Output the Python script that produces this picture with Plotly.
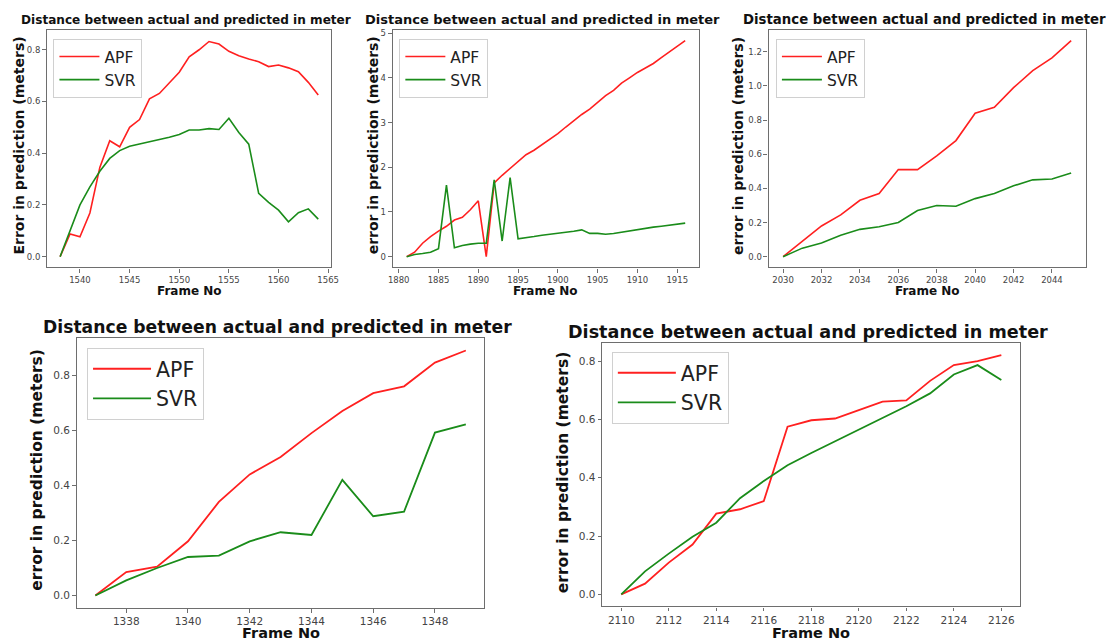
import plotly.graph_objects as go

# ---------------- data ----------------
p1_frames = list(range(1538, 1565))
p1_apf = [0.0, 0.088, 0.077, 0.169, 0.345, 0.448, 0.425, 0.5, 0.53, 0.61, 0.631, 0.67, 0.713,
          0.773, 0.8, 0.832, 0.822, 0.794, 0.777, 0.764, 0.754, 0.735, 0.741, 0.73, 0.715, 0.674, 0.625]
p1_svr = [0.0, 0.1, 0.2, 0.27, 0.33, 0.38, 0.41, 0.427, 0.435, 0.445, 0.452, 0.462, 0.472,
          0.49, 0.49, 0.495, 0.492, 0.535, 0.48, 0.435, 0.245, 0.21, 0.18, 0.135, 0.17, 0.185, 0.145]

p2_frames = list(range(1881, 1917))
p2_apf = [0.0, 0.1, 0.3, 0.45, 0.57, 0.68, 0.82, 0.88, 1.05, 1.25, 0.0, 1.65, 1.82, 1.98, 2.13,
          2.28, 2.38, 2.5, 2.62, 2.75, 2.9, 3.05, 3.18, 3.3, 3.45, 3.6, 3.72, 3.88, 4.0, 4.12,
          4.22, 4.32, 4.45, 4.57, 4.7, 4.83]
p2_svr = [0.0, 0.05, 0.07, 0.1, 0.18, 1.6, 0.2, 0.25, 0.28, 0.3, 0.3, 1.72, 0.35, 1.77, 0.4,
          0.42, 0.45, 0.48, 0.5, 0.52, 0.54, 0.57, 0.6, 0.52, 0.52, 0.5, 0.52, 0.55, 0.57, 0.6,
          0.63, 0.66, 0.68, 0.7, 0.73, 0.75]

p3_frames = list(range(2030, 2046))
p3_apf = [0.0, 0.09, 0.18, 0.245, 0.33, 0.37, 0.51, 0.51, 0.59, 0.68, 0.84, 0.875, 0.99, 1.09,
          1.165, 1.265]
p3_svr = [0.0, 0.05, 0.08, 0.125, 0.16, 0.175, 0.2, 0.27, 0.3, 0.295, 0.34, 0.37, 0.415, 0.45,
          0.455, 0.49]

p4_frames = list(range(1337, 1350))
p4_apf = [0.0, 0.085, 0.105, 0.197, 0.34, 0.44, 0.503, 0.59, 0.67, 0.735, 0.76, 0.846, 0.89]
p4_svr = [0.0, 0.055, 0.1, 0.14, 0.145, 0.197, 0.23, 0.22, 0.42, 0.288, 0.305, 0.592, 0.622]

p5_frames = list(range(2110, 2127))
p5_apf = [0.0, 0.037, 0.109, 0.171, 0.277, 0.292, 0.32, 0.575, 0.597, 0.603, 0.632, 0.661,
          0.665, 0.732, 0.786, 0.8, 0.82]
p5_svr = [0.0, 0.079, 0.14, 0.198, 0.246, 0.33, 0.389, 0.443, 0.485, 0.525, 0.565, 0.605,
          0.645, 0.689, 0.754, 0.786, 0.735]

title_text = "Distance between actual and predicted in meter"
x_title = "Frame No"
y_titles = ["Error in prediction (meters)", "error in prediction (meters)",
            "error in prediction (meters)", "error in prediction (meters)",
            "error in prediction (meters)"]

# ---------------- layout geometry ----------------
W, H = 1116, 642
FONT = "DejaVu Sans"
RED = "#ff2020"
GREEN = "#1a8c1a"
SPINE = "#6e6e6e"

panels = [
    dict(frames=p1_frames, apf=p1_apf, svr=p1_svr, px=(42.7, 330.0), py=(28.0, 266.3),
         xr=(1536.7, 1565.3), yr=(-0.0418, 0.8768), xt=list(range(1540, 1566, 5)),
         yt=[0.0, 0.2, 0.4, 0.6, 0.8], yfmt=".1f", big=False, title_size=12.1,
         title_y=18, xtitle_y=290, ytitle_x=14, legend=(49, 37)),
    dict(frames=p2_frames, apf=p2_apf, svr=p2_svr, px=(392.3, 702.3), py=(28.0, 266.3),
         xr=(1879.25, 1917.75), yr=(-0.2415, 5.0715), xt=list(range(1880, 1916, 5)),
         yt=[0, 1, 2, 3, 4, 5], yfmt="d", big=False, title_size=13,
         title_y=18, xtitle_y=290, ytitle_x=372, legend=(399, 37)),
    dict(frames=p3_frames, apf=p3_apf, svr=p3_svr, px=(772.7, 1093.3), py=(28.0, 266.3),
         xr=(2029.25, 2045.75), yr=(-0.0633, 1.3283), xt=list(range(2030, 2045, 2)),
         yt=[0.0, 0.2, 0.4, 0.6, 0.8, 1.0, 1.2], yfmt=".1f", big=False, title_size=13.3,
         title_y=18, xtitle_y=290, ytitle_x=741, legend=(780, 37)),
    dict(frames=p4_frames, apf=p4_apf, svr=p4_svr, px=(72.7, 485.0), py=(337.3, 607.7),
         xr=(1336.4, 1349.6), yr=(-0.0445, 0.9345), xt=list(range(1338, 1349, 2)),
         yt=[0.0, 0.2, 0.4, 0.6, 0.8], yfmt=".1f", big=True, title_size=17.2,
         title_y=326, xtitle_y=642, ytitle_x=32, legend=(83, 347)),
    dict(frames=p5_frames, apf=p5_apf, svr=p5_svr, px=(604.3, 1027.3), py=(342.3, 606.3),
         xr=(2109.2, 2126.8), yr=(-0.041, 0.861), xt=list(range(2110, 2127, 2)),
         yt=[0.0, 0.2, 0.4, 0.6, 0.8], yfmt=".1f", big=True, title_size=17.6,
         title_y=331, xtitle_y=642, ytitle_x=564, legend=(614, 351)),
]

fig = go.Figure()
annotations = []
layout = dict(
    width=W, height=H,
    margin=dict(l=0, r=0, t=0, b=0),
    paper_bgcolor="white", plot_bgcolor="white",
    showlegend=True,
)

for i, p in enumerate(panels, start=1):
    sfx = "" if i == 1 else str(i)
    xa, ya = "x" + sfx, "y" + sfx
    leg = "legend" if i == 1 else "legend" + str(i)
    lw = 1.6 if not p["big"] else 1.8
    fig.add_trace(go.Scatter(x=p["frames"], y=p["apf"], mode="lines", name="APF",
                             line=dict(color=RED, width=lw), xaxis=xa, yaxis=ya, legend=leg))
    fig.add_trace(go.Scatter(x=p["frames"], y=p["svr"], mode="lines", name="SVR",
                             line=dict(color=GREEN, width=lw), xaxis=xa, yaxis=ya, legend=leg))

    tick_size = 8.5 if not p["big"] else 10.5
    common = dict(showline=True, mirror=True, linecolor=SPINE, linewidth=1.4,
                  ticks="outside", ticklen=4 if not p["big"] else 3.5, tickwidth=1,
                  tickcolor=SPINE, showgrid=False, zeroline=False,
                  tickfont=dict(family=FONT, size=tick_size, color="#444444"))
    layout["xaxis" + sfx] = dict(common, domain=[p["px"][0] / W, p["px"][1] / W],
                                 range=list(p["xr"]), tickmode="array", tickvals=p["xt"],
                                 anchor=ya)
    layout["yaxis" + sfx] = dict(common, domain=[1 - p["py"][1] / H, 1 - p["py"][0] / H],
                                 range=list(p["yr"]), tickmode="array", tickvals=p["yt"],
                                 tickformat=p["yfmt"], anchor=xa)

    lg_size = 15.5 if not p["big"] else 20.5
    layout[leg] = dict(x=p["legend"][0] / W, y=1 - p["legend"][1] / H,
                       xanchor="left", yanchor="top", xref="paper", yref="paper",
                       bgcolor="white", bordercolor="#d0d0d0", borderwidth=1,
                       font=dict(family=FONT, size=lg_size, color="#222222"),
                       itemwidth=40 if not p["big"] else 58)

    cx = (p["px"][0] + p["px"][1]) / 2
    annotations.append(dict(text="<b>" + title_text + "</b>", x=(cx - 3) / W,
                            y=1 - p["title_y"] / H,
                            xref="paper", yref="paper", xanchor="center", yanchor="middle",
                            showarrow=False,
                            font=dict(family=FONT, size=p["title_size"], color="#111111")))
    if p["big"]:
        annotations.append(dict(text="<b>" + x_title + "</b>", x=cx / W, y=0,
                                xref="paper", yref="paper", xanchor="center", yanchor="bottom",
                                showarrow=False, borderpad=0,
                                font=dict(family=FONT, size=14.5, color="#111111")))
    else:
        annotations.append(dict(text="<b>" + x_title + "</b>", x=cx / W, y=1 - p["xtitle_y"] / H,
                                xref="paper", yref="paper", xanchor="center", yanchor="middle",
                                showarrow=False,
                                font=dict(family=FONT, size=12, color="#111111")))
    cy = (p["py"][0] + p["py"][1]) / 2
    yt_size = 14 if not p["big"] else 15.5
    annotations.append(dict(text="<b>" + y_titles[i - 1] + "</b>", x=p["ytitle_x"] / W,
                            y=1 - (cy - 3) / H, xref="paper", yref="paper", xanchor="center",
                            yanchor="middle", textangle=-90, showarrow=False,
                            font=dict(family=FONT, size=yt_size, color="#111111")))

layout["annotations"] = annotations
fig.update_layout(**layout)
fig.write_html("out.html")
